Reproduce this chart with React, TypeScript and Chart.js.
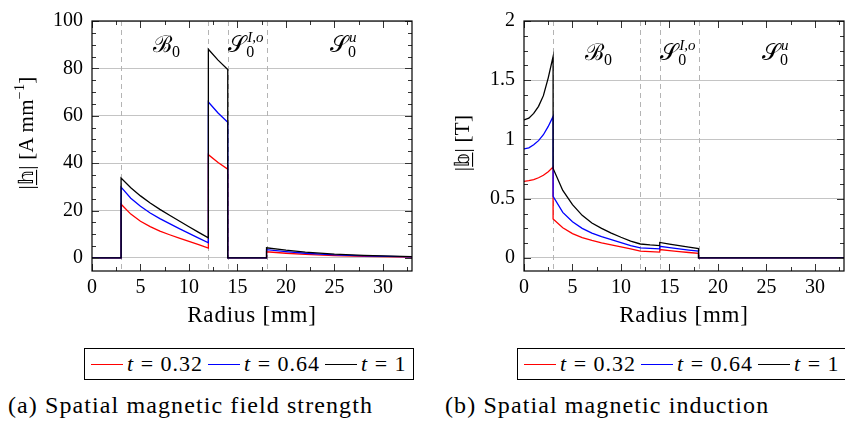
import React, { useEffect, useRef } from "react";
import { Chart, registerables } from "chart.js";

Chart.register(...registerables);

// ---------- data ----------
const hRadius = [0, 3, 3, 4, 5, 6, 7, 8, 9, 10, 11, 12, 12, 13, 14, 14, 18, 18, 20, 22, 25, 28, 33];
const hRed = [0, 0, 22.7, 18.5, 15.5, 13.2, 11.3, 9.8, 8.4, 7.0, 5.6, 4.2, 43.6, 40.3, 37.5, 0, 0, 2.6, 2.0, 1.5, 1.0, 0.7, 0.4];
const hBlue = [0, 0, 29.9, 25.2, 21.8, 19.0, 16.6, 14.5, 12.4, 10.4, 8.4, 6.4, 65.8, 61.2, 57.3, 0, 0, 3.5, 2.7, 2.0, 1.3, 0.9, 0.5];
const hBlack = [0, 0, 33.7, 29.6, 26.2, 23.2, 20.5, 18.0, 15.6, 13.2, 10.8, 8.5, 88.1, 83.5, 79.5, 0, 0, 4.3, 3.3, 2.5, 1.6, 1.1, 0.6];

const bRadius = [0, 0.5, 1, 1.5, 2, 2.5, 3, 3, 4, 5, 6, 7, 8, 9, 10, 11, 12, 13, 14, 14, 15, 16, 17, 18, 18, 33];
const bRed = [0.647, 0.652, 0.662, 0.677, 0.698, 0.728, 0.767, 0.33, 0.255, 0.205, 0.172, 0.148, 0.128, 0.11, 0.093, 0.076, 0.058, 0.054, 0.05, 0.071, 0.062, 0.054, 0.046, 0.039, 0, 0];
const bBlue = [0.92, 0.93, 0.955, 0.99, 1.04, 1.11, 1.195, 0.52, 0.385, 0.305, 0.25, 0.21, 0.18, 0.155, 0.13, 0.105, 0.085, 0.081, 0.077, 0.099, 0.088, 0.077, 0.067, 0.058, 0, 0];
const bBlack = [1.165, 1.18, 1.22, 1.28, 1.37, 1.52, 1.70, 0.756, 0.57, 0.45, 0.36, 0.295, 0.25, 0.21, 0.175, 0.143, 0.118, 0.11, 0.104, 0.131, 0.117, 0.104, 0.092, 0.08, 0, 0];

const tValues = ["0.32", "0.64", "1"];
const seriesColors = ["#ff0000", "#0000ff", "#000000"];

const xTicks = [0, 5, 10, 15, 20, 25, 30];
const hTicks = [0, 20, 40, 60, 80, 100];
const bTicks = [0, 0.5, 1, 1.5, 2];
const regionBounds = [3, 12, 14, 18];

const SERIF = '"Liberation Serif"';

type Seg = { t: string; f: string; dy?: number; u?: boolean };

function drawRich(ctx: CanvasRenderingContext2D, segs: Seg[], x: number, y: number) {
  const widths = segs.map((s) => {
    ctx.font = s.f;
    return ctx.measureText(s.t).width;
  });
  const total = widths.reduce((a, b) => a + b, 0);
  let cx = x - total / 2;
  segs.forEach((s, i) => {
    ctx.font = s.f;
    ctx.fillText(s.t, cx, y + (s.dy || 0));
    if (s.u) ctx.fillRect(cx, y + 3, widths[i], 1.1);
    cx += widths[i];
  });
}

type Label = { main: string; sup: string; x: number };

function drawRegionLabel(ctx: CanvasRenderingContext2D, l: Label, px: number, py: number) {
  ctx.font = `23px ${SERIF}`;
  ctx.fillText(l.main, px, py);
  const w = ctx.measureText(l.main).width;
  ctx.font = `16px ${SERIF}`;
  ctx.fillText("0", px + w, py + 5);
  if (l.sup) {
    ctx.font = `italic 15px ${SERIF}`;
    ctx.fillText(l.sup, px + w + 1, py - 10);
  }
}

const decoPlugin = {
  id: "deco",
  beforeDatasetsDraw(chart: any, _args: any, opts: any) {
    const { ctx, chartArea: a, scales } = chart;
    const x = scales.x;
    ctx.save();
    ctx.strokeStyle = "#b4b4b4";
    ctx.lineWidth = 1;
    ctx.setLineDash([5, 4]);
    for (const b of opts.bounds) {
      const px = Math.round(x.getPixelForValue(b)) + 0.5;
      ctx.beginPath();
      ctx.moveTo(px, a.top);
      ctx.lineTo(px, a.bottom);
      ctx.stroke();
    }
    ctx.restore();
  },
  afterDatasetsDraw(chart: any, _args: any, opts: any) {
    const { ctx, chartArea: a, scales } = chart;
    const x = scales.x;
    const y = scales.y;
    ctx.save();
    ctx.strokeStyle = "#333";
    ctx.lineWidth = 1;
    const tick = (x1: number, y1: number, x2: number, y2: number) => {
      ctx.beginPath();
      ctx.moveTo(x1, y1);
      ctx.lineTo(x2, y2);
      ctx.stroke();
    };
    for (let v = 0; v <= x.max + 1e-9; v += opts.xMinor) {
      const px = Math.round(x.getPixelForValue(v)) + 0.5;
      const major = Math.abs(v / opts.xMajor - Math.round(v / opts.xMajor)) < 1e-6;
      const len = major ? 7 : 4;
      tick(px, a.bottom, px, a.bottom - len);
      tick(px, a.top, px, a.top + len);
    }
    for (let v = 0; v <= y.max + 1e-9; v += opts.yMinor) {
      const py = Math.round(y.getPixelForValue(v)) + 0.5;
      const major = Math.abs(v / opts.yMajor - Math.round(v / opts.yMajor)) < 1e-6;
      const len = major ? 7 : 4;
      tick(a.left, py, a.left + len, py);
      tick(a.right, py, a.right - len, py);
    }
    ctx.strokeStyle = "#000";
    ctx.lineWidth = 1.2;
    ctx.strokeRect(a.left, a.top, a.right - a.left, a.bottom - a.top);

    ctx.fillStyle = "#000";
    ctx.textAlign = "left";
    ctx.textBaseline = "alphabetic";
    for (const l of opts.labels as Label[]) {
      drawRegionLabel(ctx, l, x.getPixelForValue(l.x), y.getPixelForValue(opts.labelY));
    }

    (ctx as any).letterSpacing = "0.8px";
    ctx.font = `23px ${SERIF}`;
    ctx.textAlign = "center";
    ctx.fillText("Radius [mm]", (a.left + a.right) / 2, opts.xTitleY);
    ctx.textAlign = "left";
    (ctx as any).letterSpacing = "0.3px";

    ctx.translate(opts.yTitleX, opts.yTitleCenter);
    ctx.rotate(-Math.PI / 2);
    drawRich(ctx, opts.yTitle, 0, 0);
    ctx.restore();
  },
};

function makeSeries(xs: number[], ys: number[], i: number) {
  return {
    label: "t = " + tValues[i],
    data: xs.map((xv, k) => ({ x: xv, y: ys[k] })),
    borderColor: seriesColors[i],
    backgroundColor: seriesColors[i],
    borderWidth: 1.3,
    pointRadius: 0,
    tension: 0,
    fill: false,
    order: 3 - i,
  };
}

function buildConfig(kind: "h" | "b") {
  const isH = kind === "h";
  const xs = isH ? hRadius : bRadius;
  const series = isH ? [hRed, hBlue, hBlack] : [bRed, bBlue, bBlack];
  const yT = isH ? hTicks : bTicks;
  const yTitle: Seg[] = isH
    ? [
        { t: "|", f: `21px ${SERIF}` },
        { t: "𝕙", f: `20px ${SERIF}`, u: true },
        { t: "| [A\u2009mm", f: `21px ${SERIF}` },
        { t: "−1", f: `14px ${SERIF}`, dy: -9 },
        { t: "]", f: `21px ${SERIF}` },
      ]
    : [
        { t: "|", f: `21px ${SERIF}` },
        { t: "𝕓", f: `20px ${SERIF}`, u: true },
        { t: "| [T]", f: `21px ${SERIF}` },
      ];
  return {
    type: "line",
    data: { datasets: series.map((s, i) => makeSeries(xs, s, i)) },
    plugins: [decoPlugin],
    options: {
      animation: false,
      responsive: false,
      maintainAspectRatio: false,
      layout: { padding: { left: 0, right: isH ? 8 : 1, top: 15, bottom: 0 } },
      plugins: {
        legend: { display: false },
        tooltip: { enabled: false },
        deco: {
          bounds: regionBounds,
          xMajor: 5,
          xMinor: 2.5,
          yMajor: isH ? 20 : 0.5,
          yMinor: isH ? 5 : 0.125,
          labelY: isH ? 87 : 1.67,
          labels: [
            { main: "ℬ", sup: "", x: 6.3 },
            { main: "𝒮", sup: "I,o", x: 14.05 },
            { main: "𝒮", sup: "u", x: 24.55 },
          ],
          xTitleY: 322,
          yTitleX: isH ? 33 : 49,
          yTitleCenter: isH ? 133 : 143,
          yTitle,
        },
      },
      scales: {
        x: {
          type: "linear",
          min: 0,
          max: 33,
          afterBuildTicks: (s: any) => {
            s.ticks = xTicks.map((v) => ({ value: v }));
          },
          afterFit: (s: any) => {
            s.height = 59;
          },
          grid: { display: false, drawTicks: false },
          border: { display: false },
          ticks: {
            padding: 5,
            maxRotation: 0,
            autoSkip: false,
            color: "#000",
            font: { family: SERIF, size: 20 },
            callback: (v: any) => String(v),
          },
        },
        y: {
          type: "linear",
          min: isH ? -5.5 : -0.11,
          max: isH ? 100 : 2,
          afterBuildTicks: (s: any) => {
            s.ticks = yT.map((v) => ({ value: v }));
          },
          afterFit: (s: any) => {
            s.width = isH ? 92 : 104;
          },
          grid: { display: true, drawTicks: false, color: "#c4c4c4", lineWidth: 1 },
          border: { display: false },
          ticks: {
            padding: 9,
            color: "#000",
            font: { family: SERIF, size: 20 },
            callback: (v: any) => String(v),
          },
        },
      },
    },
  };
}

function ChartCanvas({ kind, left, width }: { kind: "h" | "b"; left: number; width: number }) {
  const ref = useRef<HTMLCanvasElement | null>(null);
  useEffect(() => {
    if (!ref.current) return;
    const chart = new Chart(ref.current, buildConfig(kind) as any);
    return () => chart.destroy();
  }, [kind]);
  return (
    <canvas
      ref={ref}
      width={width}
      height={330}
      style={{ position: "absolute", left, top: 0, width, height: 330 }}
    />
  );
}

function Legend({ left }: { left: number }) {
  return (
    <div
      style={{
        position: "absolute",
        left,
        top: 348,
        width: 330,
        height: 32,
        border: "1px solid #000",
        boxSizing: "border-box",
        background: "#fff",
      }}
    >
      {tValues.map((t, i) => (
        <React.Fragment key={t}>
          <div
            style={{
              position: "absolute",
              left: 6 + i * 117,
              top: 14.5,
              width: 32,
              height: 1.3,
              background: seriesColors[i],
            }}
          />
          <div
            style={{
              position: "absolute",
              left: 42 + i * 117,
              top: 0,
              height: 30,
              lineHeight: "30px",
              fontFamily: SERIF,
              fontSize: 22,
              letterSpacing: "1px",
              whiteSpace: "nowrap",
              color: "#000",
            }}
          >
            <i>t</i>
            {" = " + t}
          </div>
        </React.Fragment>
      ))}
    </div>
  );
}

function Caption({ left, text }: { left: number; text: string }) {
  return (
    <div
      style={{
        position: "absolute",
        left,
        top: 393,
        lineHeight: "24px",
        fontFamily: SERIF,
        fontSize: 24,
        letterSpacing: "1.1px",
        whiteSpace: "nowrap",
        color: "#000",
      }}
    >
      {text}
    </div>
  );
}

export default function App() {
  return (
    <div
      style={{
        position: "absolute",
        left: 0,
        top: 0,
        width: 845,
        height: 424,
        overflow: "hidden",
        background: "#fff",
      }}
    >
      <ChartCanvas kind="h" left={0} width={420} />
      <ChartCanvas kind="b" left={420} width={425} />
      <Legend left={84} />
      <Legend left={517} />
      <Caption left={8} text="(a) Spatial magnetic field strength" />
      <Caption left={445} text="(b) Spatial magnetic induction" />
    </div>
  );
}
